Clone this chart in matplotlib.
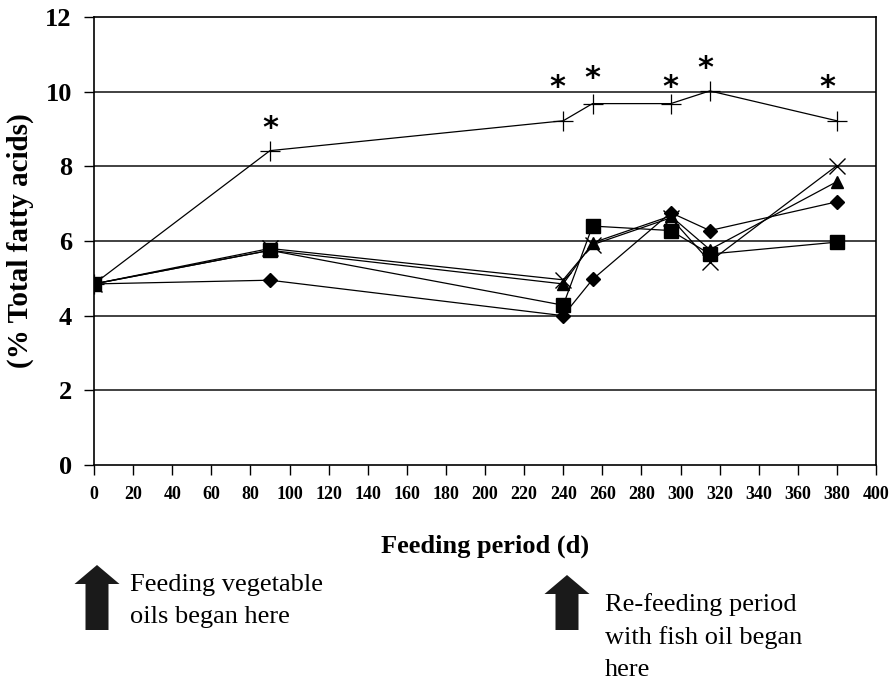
import matplotlib
matplotlib.use("Agg")
import matplotlib.pyplot as plt
from matplotlib.patches import FancyArrow

days = [0, 90, 240, 255, 295, 315, 380]
plus_vals = [4.85, 8.42, 9.22, 9.68, 9.68, 10.02, 9.22]
diamond_vals = [4.85, 4.95, 4.0, 4.97, 6.76, 6.28, 7.05]
square_vals = [4.85, 5.75, 4.28, 6.4, 6.28, 5.65, 5.97]
triangle_vals = [4.85, 5.75, 4.85, 5.95, 6.67, 5.77, 7.59]
cross_vals = [4.85, 5.8, 4.96, 5.9, 6.62, 5.45, 8.02]
star_days = [90, 236.8, 254.7, 294.6, 312.5, 375]
star_vals = [9.11, 10.23, 10.47, 10.23, 10.72, 10.23]

xticks = list(range(0, 401, 20))
yticks = list(range(0, 13, 2))

plt.rcParams['font.family'] = ['Liberation Serif', 'DejaVu Serif']

fig = plt.figure(figsize=(8.91, 6.81), dpi=100)
ax = fig.add_axes([94/891, 1-465/681, (876-94)/891, (465-17)/681])

ax.set_xlim(0, 400)
ax.set_ylim(0, 12)
for y in yticks[1:-1]:
    ax.axhline(y, color='#333333', lw=1.3, zorder=1)

ax.plot(days, cross_vals, color='black', lw=0.9, marker='x', ms=12, mew=1.0, zorder=3)
ax.plot(days, triangle_vals, color='black', lw=0.9, marker='^', ms=9, zorder=4)
ax.plot(days, diamond_vals, color='black', lw=0.9, marker='D', ms=7, zorder=4)
ax.plot(days, square_vals, color='black', lw=0.9, marker='s', ms=10, zorder=5)
ax.plot(days, plus_vals, color='black', lw=0.9, marker='+', ms=15, mew=0.9, zorder=3)

for d, v in zip(star_days, star_vals):
    ax.annotate('*', (d, v), xytext=(0, -9), textcoords='offset points',
                ha='center', va='baseline', fontsize=22, fontweight='bold',
                family='DejaVu Sans')

ax.set_xticks(xticks)
ax.set_yticks(yticks)
ax.tick_params(axis='x', direction='out', length=7, width=1, labelsize=13, pad=8)
ax.tick_params(axis='y', direction='out', length=7, width=1, labelsize=19, pad=9)
for lab in ax.get_xticklabels() + ax.get_yticklabels():
    lab.set_fontweight('bold')
for s in ax.spines.values():
    s.set_linewidth(1.2)

ax.set_xlabel('Feeding period (d)', fontsize=19, fontweight='bold', labelpad=23)
ax.set_ylabel('(% Total fatty acids)', fontsize=21, fontweight='bold', labelpad=8)

def arrow(xc, ytop, ybot):
    x0 = xc / 891
    y_top = 1 - ytop / 681
    y_bot = 1 - ybot / 681
    a = FancyArrow(x0, y_bot, 0, y_top - y_bot, width=23/891, head_width=45/891,
                   head_length=19/681, length_includes_head=True,
                   transform=fig.transFigure, color='#1a1a1a', lw=0)
    fig.add_artist(a)

arrow(97, 565, 630)
arrow(567, 575, 630)

fig.text(130/891, 1-601/681, 'Feeding vegetable\noils began here', fontsize=19,
         va='center', ha='left', linespacing=1.6)
fig.text(605/891, 1-637/681, 'Re-feeding period\nwith fish oil began\nhere', fontsize=19,
         va='center', ha='left', linespacing=1.6)

fig.savefig('out.png', dpi=100)
